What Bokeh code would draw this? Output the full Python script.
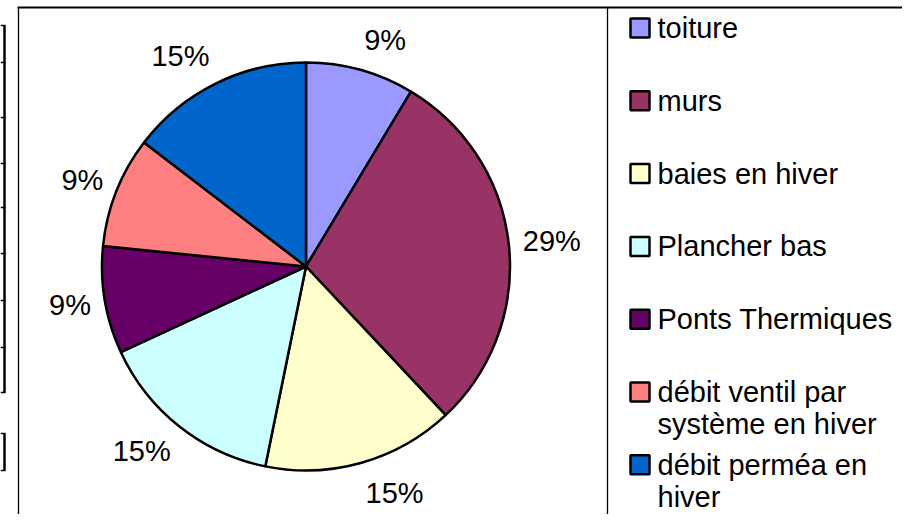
import math
from bokeh.plotting import figure
from bokeh.models import Range1d
from bokeh.core.properties import value
from bokeh.embed import file_html
from bokeh.resources import INLINE

# ---- data ----
categories = ["toiture", "murs", "baies en hiver", "Plancher bas", "Ponts Thermiques",
              "débit ventil par\nsystème en hiver", "débit perméa en\nhiver"]
shares = [8.6, 29.4, 15.2, 14.9, 8.5, 8.8, 14.6]
pct_labels = ["9%", "29%", "15%", "15%", "9%", "9%", "15%"]
colors = ["#9999FF", "#993366", "#FFFFCC", "#CCFFFF", "#660066", "#FF8080", "#0066CC"]

FONT = "Liberation Sans"
FS_PX = 29
FS = f"{FS_PX}px"

H = 530
def Y(y):
    return H - y

p = figure(width=902, height=514, x_range=Range1d(0, 902), y_range=Range1d(16, 530),
           output_backend="svg", toolbar_location=None, min_border=0,
           x_axis_location=None, y_axis_location=None)
p.grid.visible = False
p.outline_line_color = None
p.background_fill_color = "white"
p.border_fill_color = "white"

# chart frame lines
p.segment(x0=[18, 607, 17], y0=[Y(7), Y(7), Y(7)],
          x1=[18, 607, 902], y1=[Y(540), Y(540), Y(7)],
          line_color="black", line_width=[1.3, 1.3, 2])

# cropped spreadsheet cell borders at the far left
cell_edges = [25, 62, 117, 163, 207, 253, 300, 347, 392, 433, 470]
p.segment(x0=[4, 4], y0=[Y(25), Y(433)], x1=[4, 4], y1=[Y(392), Y(470)],
          line_color="black", line_width=2.5)
p.segment(x0=[0] * len(cell_edges), y0=[Y(e) for e in cell_edges],
          x1=[5] * len(cell_edges), y1=[Y(e) for e in cell_edges],
          line_color="black", line_width=1.5)

# pie
cx, cy, r = 305.5, Y(266), 204
total = sum(shares)
starts, ends, mids = [], [], []
cum = 0.0
for v in shares:
    a0 = math.pi / 2 - 2 * math.pi * (cum + v) / total
    a1 = math.pi / 2 - 2 * math.pi * cum / total
    starts.append(a0)
    ends.append(a1)
    mids.append((a0 + a1) / 2)
    cum += v

p.wedge(x=cx, y=cy, radius=r, start_angle=starts, end_angle=ends,
        fill_color=colors, line_color="black", line_width=2.5)

# outside-end labels: box corner anchored on a ray through the slice middle
R_lab, half_h = 218, 17
lx, ly = [], []
for m, lab in zip(mids, pct_labels):
    ux, uy = math.cos(m), math.sin(m)
    half_w = 0.5 * FS_PX * (0.556 * (len(lab) - 1) + 0.889)
    lx.append(cx + R_lab * ux + half_w * (1 if ux >= 0 else -1))
    ly.append(cy + R_lab * uy + half_h * uy)
p.text(x=lx, y=ly, text=pct_labels, text_align="center", text_baseline="middle",
       text_font=value(FONT), text_font_size=FS, text_color="black")

# legend
row0, step, lh = 27.5, 72.8, 32
sq_x, tx = 639.5, 657
sq_y, t_x, t_y, t_txt = [], [], [], []
for i, cat in enumerate(categories):
    yc = row0 + i * step
    sq_y.append(Y(yc))
    for j, line in enumerate(cat.split("\n")):
        t_x.append(tx)
        t_y.append(Y(yc + j * lh))
        t_txt.append(line)

p.rect(x=sq_x, y=sq_y, width=19, height=19, fill_color=colors,
       line_color="black", line_width=2.5)
p.text(x=t_x, y=t_y, text=t_txt, text_align="left", text_baseline="middle",
       text_font=value(FONT), text_font_size=FS, text_color="black")

open("out.html", "w").write(file_html(p, INLINE))
